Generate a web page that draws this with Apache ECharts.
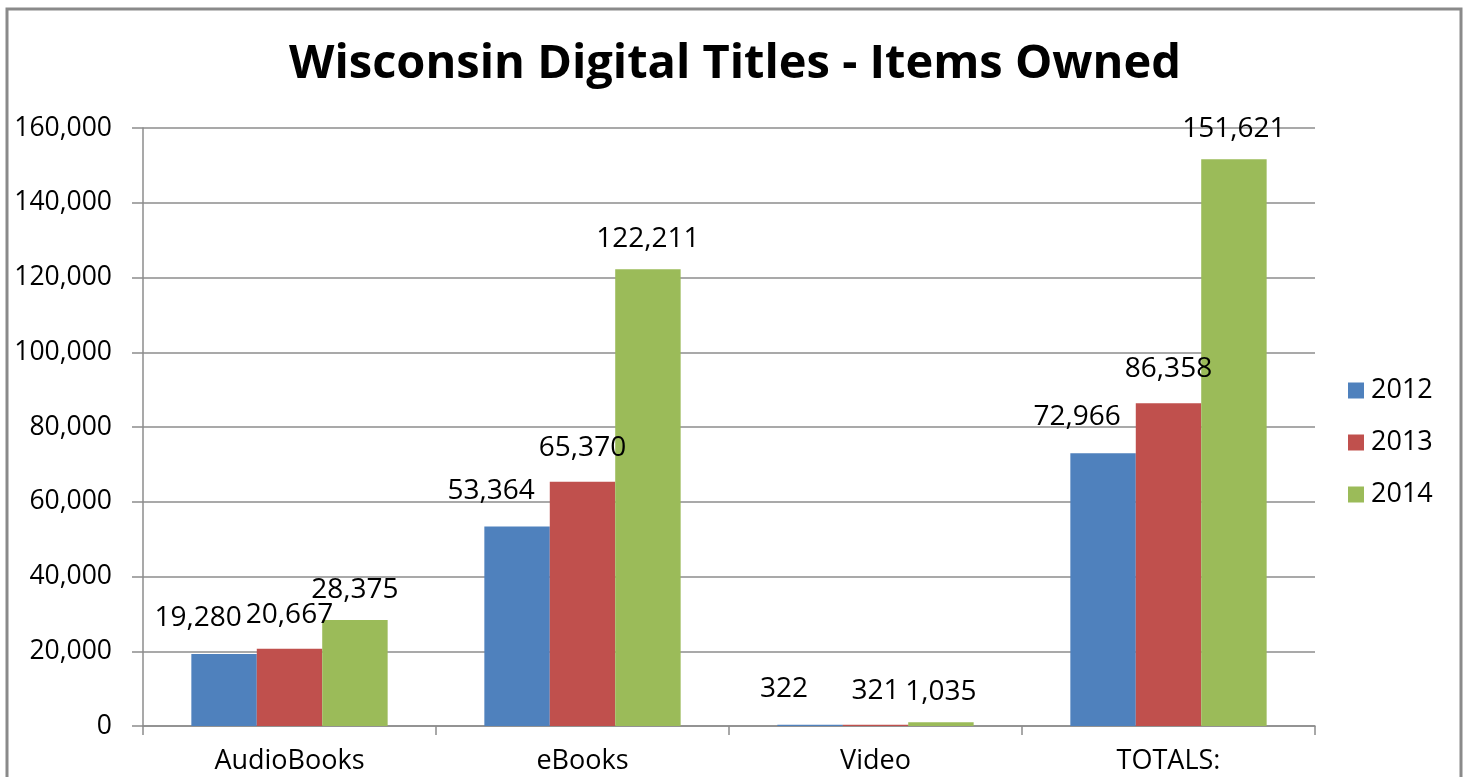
<!DOCTYPE html>
<html>
<head>
<meta charset="utf-8">
<script src="https://cdn.jsdelivr.net/npm/echarts@6/dist/echarts.min.js"></script>
<style>
html,body{margin:0;padding:0;background:#fff;}
#chart{width:1470px;height:777px;}
</style>
</head>
<body>
<div id="chart"></div>
<script>
const categories = ['AudioBooks', 'eBooks', 'Video', 'TOTALS:'];
const years = ['2012', '2013', '2014'];
const values2012 = [19280, 53364, 322, 72966];
const values2013 = [20667, 65370, 321, 86358];
const values2014 = [28375, 122211, 1035, 151621];
const yTicks = [0, 20000, 40000, 60000, 80000, 100000, 120000, 140000, 160000];

const colors = ['#4F81BD', '#C0504D', '#9BBB59'];
const labelOffsets = [[-26, -12], [0, -10], [0, -6]];
const fontFam = '"Open Sans", sans-serif';
const seriesValues = [values2012, values2013, values2014];

const chart = echarts.init(document.getElementById('chart'));
chart.setOption({
  animation: false,
  backgroundColor: '#fff',
  title: {
    text: 'Wisconsin Digital Titles - Items Owned',
    left: 'center',
    top: 36,
    textStyle: { fontFamily: fontFam, fontWeight: 'bold', fontSize: 47, color: '#000' }
  },
  legend: {
    orient: 'vertical',
    left: 1343,
    top: 372,
    itemWidth: 16,
    itemHeight: 16,
    itemGap: 25,
    icon: 'rect',
    data: years,
    textStyle: { fontFamily: fontFam, fontSize: 27, color: '#000', padding: [0, 0, 0, 2] }
  },
  grid: { left: 143, right: 155, top: 128, bottom: 51, containLabel: false },
  xAxis: {
    type: 'category',
    data: categories,
    axisLine: { lineStyle: { color: '#8c8c8c', width: 1.5 } },
    axisTick: { show: true, length: 9, alignWithLabel: false, lineStyle: { color: '#8c8c8c', width: 1.5 } },
    axisLabel: { fontFamily: fontFam, fontSize: 27, color: '#000', margin: 22 }
  },
  yAxis: {
    type: 'value',
    min: yTicks[0],
    max: yTicks[yTicks.length - 1],
    interval: yTicks[1] - yTicks[0],
    axisLine: { show: true, lineStyle: { color: '#8c8c8c', width: 1.5 } },
    axisTick: { show: true, length: 11, lineStyle: { color: '#8c8c8c', width: 1.5 } },
    splitLine: { show: true, lineStyle: { color: '#8c8c8c', width: 1.5 } },
    axisLabel: {
      fontFamily: fontFam, fontSize: 26.5, color: '#000', margin: 31,
      formatter: v => v.toLocaleString('en-US')
    }
  },
  series: years.map((y, i) => ({
    name: y,
    type: 'bar',
    data: seriesValues[i],
    barGap: '0%',
    barCategoryGap: '33%',
    itemStyle: { color: colors[i] },
    label: {
      show: true,
      position: 'top',
      distance: 10,
      offset: labelOffsets[i],
      fontFamily: fontFam,
      fontSize: 28,
      color: '#000',
      formatter: p => p.value.toLocaleString('en-US')
    }
  })),
  graphic: [{
    type: 'rect',
    shape: { x: 7, y: 9, width: 1454, height: 820 },
    style: { fill: 'none', stroke: '#8a8a8a', lineWidth: 3 },
    silent: true
  }]
});
</script>
</body>
</html>
